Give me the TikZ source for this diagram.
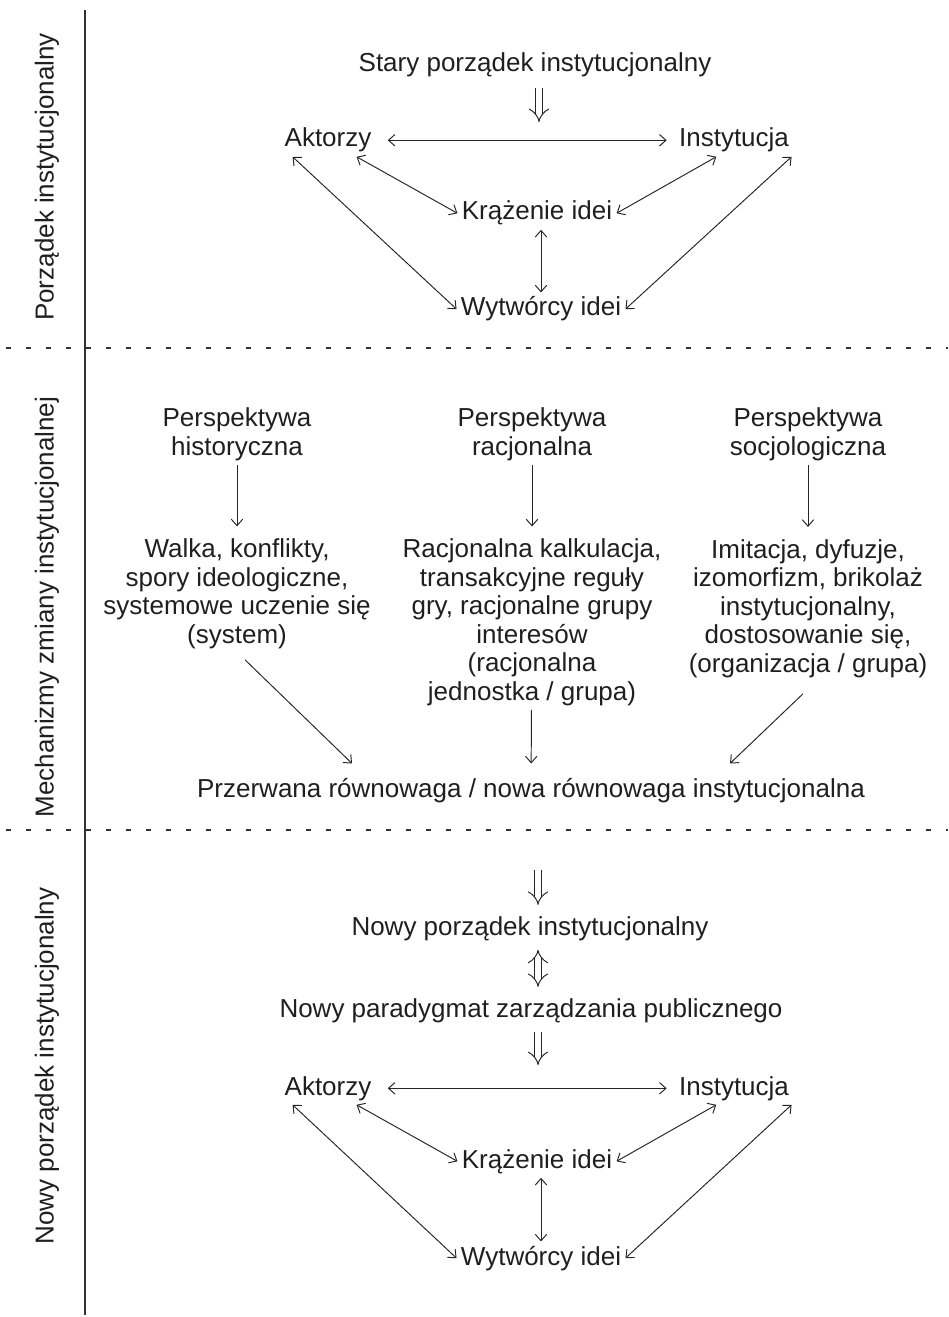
\documentclass[tikz,border=0pt]{standalone}
\usepackage{fontspec}
\setmainfont{Liberation Sans}
\usetikzlibrary{arrows.meta,calc}

\begin{document}
\begin{tikzpicture}[x=0.02cm, y=-0.02cm, font=\fontsize{14.8}{16.2}\selectfont]

	% Define basic styles
	\tikzset{
		txt/.style={
			inner sep=2.3pt, align=center, text=black!88, anchor=base
		},
		sidetxt/.style={
			rotate=90, inner sep=0pt, text=black!88
		},
		arrow/.style={
			line width=0.55pt, black!85, -{Straight Barb[length=1.3mm,width=2.3mm]}
		},
		biarrow/.style={
			line width=0.55pt, black!85,
			{Straight Barb[length=1.3mm,width=2.3mm]}-{Straight Barb[length=1.3mm,width=2.3mm]}
		},
		dblarrow/.style={
			draw=black!85, double, double distance=3.6pt, line width=0.55pt, -{Implies[scale=1.9]}
		},
		dbltwoway/.style={
			dblarrow, {Implies[scale=1.9]}-{Implies[scale=1.9]}
		},
		vline/.style={
			line width=1pt, black!80
		},
		hline/.style={
			line width=1pt, black!80, dash pattern=on 0.1cm off 0.3cm
		}
	}

	\useasboundingbox (0,0) rectangle (948,1317);

	% Frame
	\draw[vline] (85,10) -- (85,1315);
	\draw[hline] (6,348) -- (948,348);
	\draw[hline] (6,830) -- (948,830);

	\node[sidetxt] (sec1) at (47,177) {Porządek instytucjonalny};
	\node[sidetxt] (sec2) at (47,607) {Mechanizmy zmiany instytucjonalnej};
	\node[sidetxt] (sec3) at (47,1066) {Nowy porządek instytucjonalny};

	% Nodes - old order
	\node[txt] (stary) at (535,72) {Stary porządek instytucjonalny};
	\coordinate (in1) at (539,122);
	\node[txt] (akt1) at (328,147) {Aktorzy};
	\node[txt] (inst1) at (734,147) {Instytucja};
	\node[txt] (krz1) at (537,220) {Krążenie idei};
	\node[txt] (wyt1) at (541,316) {Wytwórcy idei};

	% Nodes - mechanisms (base = last line)
	\node[txt] (phist) at (237,455) {Perspektywa\\historyczna};
	\node[txt] (pracj) at (532,455) {Perspektywa\\racjonalna};
	\node[txt] (psoc) at (808,455) {Perspektywa\\socjologiczna};
	\node[txt] (walka) at (237,643) {Walka, konflikty,\\spory ideologiczne,\\systemowe uczenie się\\(system)};
	\node[txt] (kalk) at (532,700) {Racjonalna kalkulacja,\\transakcyjne reguły\\gry, racjonalne grupy\\interesów\\(racjonalna\\jednostka / grupa)};
	\node[txt] (imit) at (808,672) {Imitacja, dyfuzje,\\izomorfizm, brikolaż\\instytucjonalny,\\dostosowanie się,\\(organizacja / grupa)};
	\node[txt] (przer) at (531,797) {Przerwana równowaga / nowa równowaga instytucjonalna};

	% Nodes - new order
	\node[txt] (nowy) at (530,935) {Nowy porządek instytucjonalny};
	\node[txt] (parad) at (531,1017) {Nowy paradygmat zarządzania publicznego};
	\coordinate (in2) at (538,1065);
	\node[txt] (akt2) at (328,1095) {Aktorzy};
	\node[txt] (inst2) at (734,1095) {Instytucja};
	\node[txt] (krz2) at (537,1168) {Krążenie idei};
	\node[txt] (wyt2) at (541,1265) {Wytwórcy idei};

	% Arrows - old order
	\draw[dblarrow, shorten <=0.12cm] (stary.south -| in1) -- (in1);
	\draw[biarrow, shorten <=0.24cm, shorten >=0.16cm] (akt1) -- (inst1);
	\draw[biarrow] (akt1.-30) -- (krz1.west);
	\draw[biarrow] (akt1.205) -- (wyt1.west);
	\draw[biarrow] (inst1.223) -- (krz1.east);
	\draw[biarrow] (inst1.-16) -- (wyt1.east);
	\draw[biarrow] (krz1.south -| wyt1) -- (wyt1.north);

	% Arrows - mechanisms
	\draw[arrow, shorten >=0.16cm] (phist) -- (walka);
	\draw[arrow, shorten >=0.16cm] (pracj) -- (kalk);
	\draw[arrow, shorten >=0.16cm] (psoc) -- (imit);
	\draw[arrow] ($(walka.south)+(8,7)$) -- ($(przer.north)+(-179,-10)$);
	\draw[arrow, shorten >=0.2cm] (kalk) -- (przer);
	\draw[arrow] ($(imit.south)+(-5,12)$) -- ($(przer.north)+(199,-10)$);

	% Arrows - new order
	\draw[dblarrow, shorten <=1.27cm, shorten >=0.14cm] (przer.south -| in2) -- (nowy.north -| in2);
	\draw[dbltwoway, shorten <=0.1cm, shorten >=0.14cm] (nowy.south -| in2) -- (parad.north -| in2);
	\draw[dblarrow, shorten <=0.1cm] (parad.south -| in2) -- (in2);
	\draw[biarrow, shorten <=0.24cm, shorten >=0.16cm] (akt2) -- (inst2);
	\draw[biarrow] (akt2.-30) -- (krz2.west);
	\draw[biarrow] (akt2.205) -- (wyt2.west);
	\draw[biarrow] (inst2.223) -- (krz2.east);
	\draw[biarrow] (inst2.-16) -- (wyt2.east);
	\draw[biarrow] (krz2.south -| wyt2) -- (wyt2.north);

\end{tikzpicture}
\end{document}
